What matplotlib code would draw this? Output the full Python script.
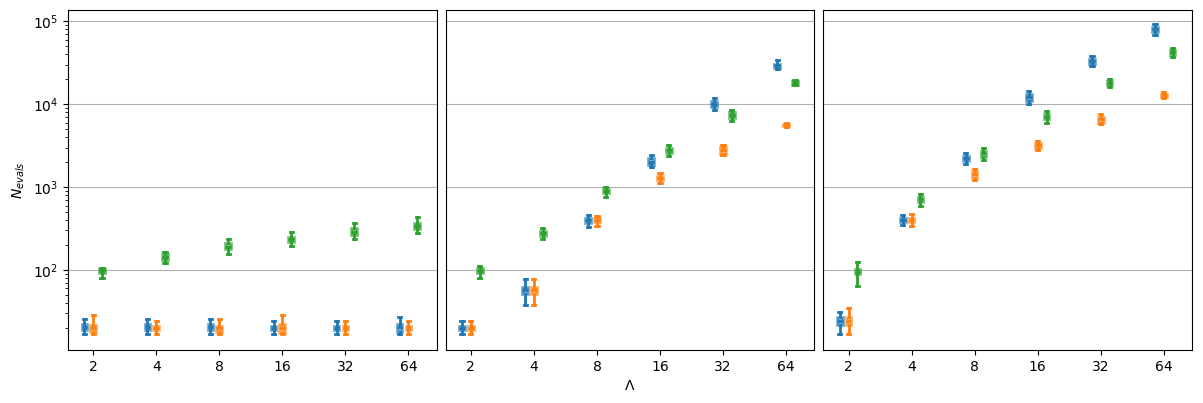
import numpy as np
import matplotlib
matplotlib.use("Agg")
from matplotlib import pyplot as plt

lambdas = ['2', '4', '8', '16', '32', '64']
colors = ['tab:blue', 'tab:orange', 'tab:green']

# panel 1 -- rows: blue, orange, green
med_a = [[20.6, 20.6, 20.6, 20, 20, 20.6],
         [20, 20, 20, 20, 20, 20],
         [98, 143, 191, 234, 289, 339]]
q1_a = [[18.7, 18.7, 18.7, 19, 19, 18],
        [18, 19, 18, 17.5, 19, 19],
        [92, 133, 177, 217, 264, 312]]
q3_a = [[22.5, 22.5, 22.5, 21, 21, 22.5],
        [22, 21, 21, 22.5, 21, 21],
        [104, 154, 209, 252, 321, 368]]
lo_a = [[17, 17, 17, 17, 17, 17],
        [17, 17, 17, 17, 17, 17],
        [81, 120, 157, 196, 238, 281]]
hi_a = [[26, 26, 26, 24.2, 24.2, 27.2],
        [28.7, 24.2, 25.4, 28.7, 24.2, 24.2],
        [107, 167, 234, 284, 374, 431]]

# panel 2
med_b = [[20.2, 57.4, 400, 2034, 10090, 29500],
         [20.2, 57.4, 398, 1294, 2793, 5585],
         [97, 279, 902, 2793, 7430, 18200]]
q1_b = [[19, 51.8, 372, 1840, 9200, 27500],
        [19, 51.8, 375, 1225, 2518, 5400],
        [92, 261, 847, 2612, 6900, 17300]]
q3_b = [[21.3, 62.4, 424, 2234, 10870, 31000],
        [21.3, 62.4, 420, 1368, 3020, 5800],
        [106, 297, 961, 2973, 8020, 19100]]
lo_b = [[17.1, 38.2, 330, 1742, 8610, 26800],
        [17.1, 38.2, 339, 1117, 2473, 5280],
        [81, 236, 764, 2405, 6240, 16950]]
hi_b = [[24, 77, 455, 2432, 11800, 33900],
        [24, 77, 447, 1475, 3206, 5900],
        [112, 318, 1016, 3206, 8530, 19440]]

# panel 3
med_c = [[24.3, 400, 2234, 12140, 33000, 80100],
         [24.3, 400, 1445, 3206, 6590, 12830],
         [95.5, 717, 2570, 7100, 18200, 42360]]
q1_c = [[21.7, 380, 2090, 11040, 30600, 74300],
        [21.7, 380, 1306, 3000, 6000, 12300],
        [88.5, 666, 2340, 6590, 17300, 39600]]
q3_c = [[27.2, 424, 2383, 13300, 35500, 86000],
        [27.2, 424, 1585, 3400, 7100, 13400],
        [103, 764, 2760, 7710, 19100, 45100]]
lo_c = [[17.1, 348, 1892, 10000, 28700, 67800],
        [17.1, 342, 1213, 2840, 5840, 11910],
        [64.7, 590, 2115, 5900, 16040, 37500]]
hi_c = [[31.2, 455, 2570, 14360, 37840, 92000],
        [34.8, 473, 1648, 3580, 7640, 14060],
        [125, 824, 2950, 8240, 20000, 47640]]

panels = [(med_a, q1_a, q3_a, lo_a, hi_a),
          (med_b, q1_b, q3_b, lo_b, hi_b),
          (med_c, q1_c, q3_c, lo_c, hi_c)]

fig, axes = plt.subplots(1, 3, sharey=True, figsize=(12.03, 4.03), dpi=100)
fig.subplots_adjust(left=0.0565, right=0.991, top=0.975, bottom=0.132, wspace=0.024)

base = np.arange(1, len(lambdas) + 1)
offs = [-0.14, 0.0, 0.14]

for ax, (med, q1, q3, lo, hi) in zip(axes, panels):
    for k, c in enumerate(colors):
        stats = []
        for i in range(len(lambdas)):
            stats.append(dict(med=med[k][i], q1=q1[k][i], q3=q3[k][i],
                              whislo=lo[k][i], whishi=hi[k][i], fliers=[]))
        ax.bxp(stats, positions=base + offs[k], widths=0.09, capwidths=0.05,
               patch_artist=True, showfliers=False, manage_ticks=False,
               boxprops=dict(facecolor=c, edgecolor=c, alpha=0.6, linewidth=2),
               medianprops=dict(color=c, linewidth=2),
               whiskerprops=dict(color=c, linewidth=2),
               capprops=dict(color=c, linewidth=2))
    ax.set_yscale('log')
    ax.set_xticks(base)
    ax.set_xticklabels(lambdas)
    ax.set_xlim(0.6, 6.45)
    ax.grid(axis='y')
    ax.set_axisbelow(True)

axes[0].set_ylim(10.9, 1.37e5)
axes[0].set_ylabel('$N_{evals}$')
axes[1].set_xlabel(r'$\Lambda$')
for ax in axes[1:]:
    ax.tick_params(axis='y', which='both', left=False)

plt.savefig('out.png')
